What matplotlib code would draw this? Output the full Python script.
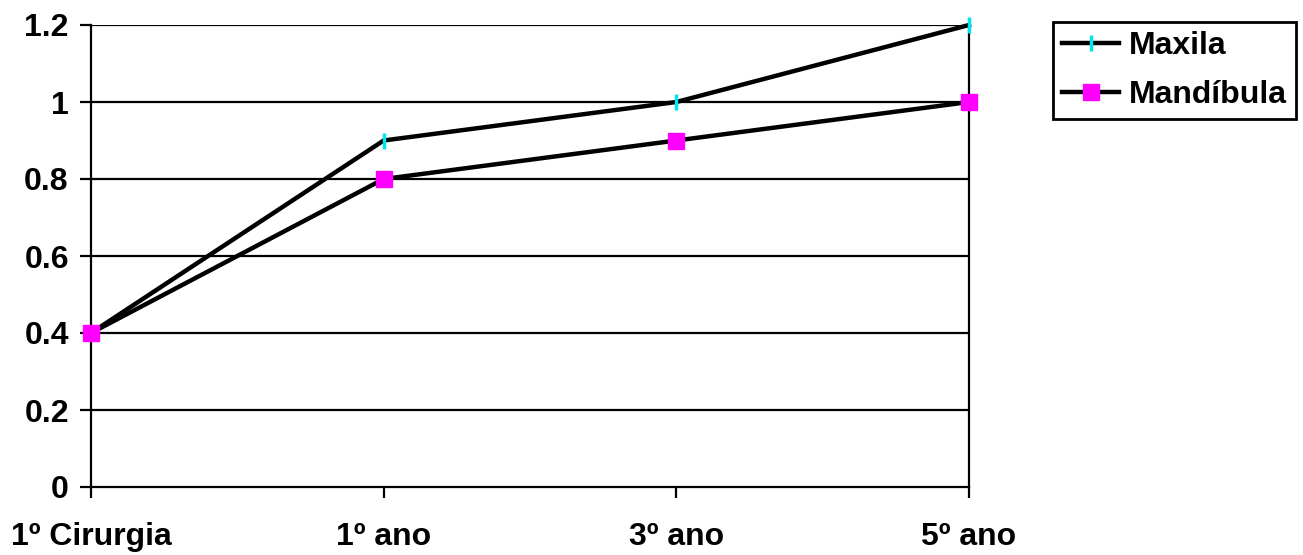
import matplotlib
matplotlib.use('Agg')
import matplotlib.pyplot as plt

periods = ["1º Cirurgia", "1º ano", "3º ano", "5º ano"]
maxila = [0.4, 0.9, 1.0, 1.2]
mandibula = [0.4, 0.8, 0.9, 1.0]
yticks = [0, 0.2, 0.4, 0.6, 0.8, 1.0, 1.2]
ylabels = ["0", "0.2", "0.4", "0.6", "0.8", "1", "1.2"]

plt.rcParams['font.family'] = ['Liberation Sans', 'DejaVu Sans']
plt.rcParams['font.weight'] = 'bold'

fig = plt.figure(figsize=(13.03, 5.55), dpi=100)
ax = fig.add_axes([91/1303, 1 - 487/555, (969 - 91)/1303, (487 - 25)/555])

x = range(len(periods))
ax.plot(x, maxila, color='black', lw=3.2, marker='|', markersize=11,
        markeredgecolor='#00e5ee', markeredgewidth=2.5, label='Maxila',
        zorder=3, clip_on=False)
ax.plot(x, mandibula, color='black', lw=3.2, marker='s', markersize=12,
        markerfacecolor='#ff00ff', markeredgecolor='#ff00ff', label='Mandíbula',
        zorder=3, clip_on=False)

ax.set_xlim(0, len(periods) - 1)
ax.set_ylim(0, 1.2)
ax.set_yticks(yticks)
ax.set_yticklabels(ylabels)
ax.set_xticks(list(x))
ax.set_xticklabels(periods)

for y in yticks[1:]:
    ax.axhline(y, color='black', lw=1.6, zorder=1)

for s in ['left', 'right', 'bottom']:
    ax.spines[s].set_linewidth(1.6)
ax.spines['top'].set_visible(False)
ax.tick_params(axis='y', direction='out', length=8, width=1.6, labelsize=23, pad=8)
ax.tick_params(axis='x', direction='out', length=8, width=1.6, labelsize=23, pad=17)
for lab in ax.get_xticklabels() + ax.get_yticklabels():
    lab.set_fontweight('bold')

leg = fig.legend(loc='upper left', bbox_to_anchor=(1053/1303, 1 - 22/555),
                 fontsize=23, frameon=True, fancybox=False, edgecolor='black',
                 framealpha=1, handlelength=1.8, handletextpad=0.3,
                 borderpad=0.28, labelspacing=0.6, borderaxespad=0)
leg.get_frame().set_linewidth(2)
for t in leg.get_texts():
    t.set_fontweight('bold')

fig.savefig('out.png', dpi=100)
